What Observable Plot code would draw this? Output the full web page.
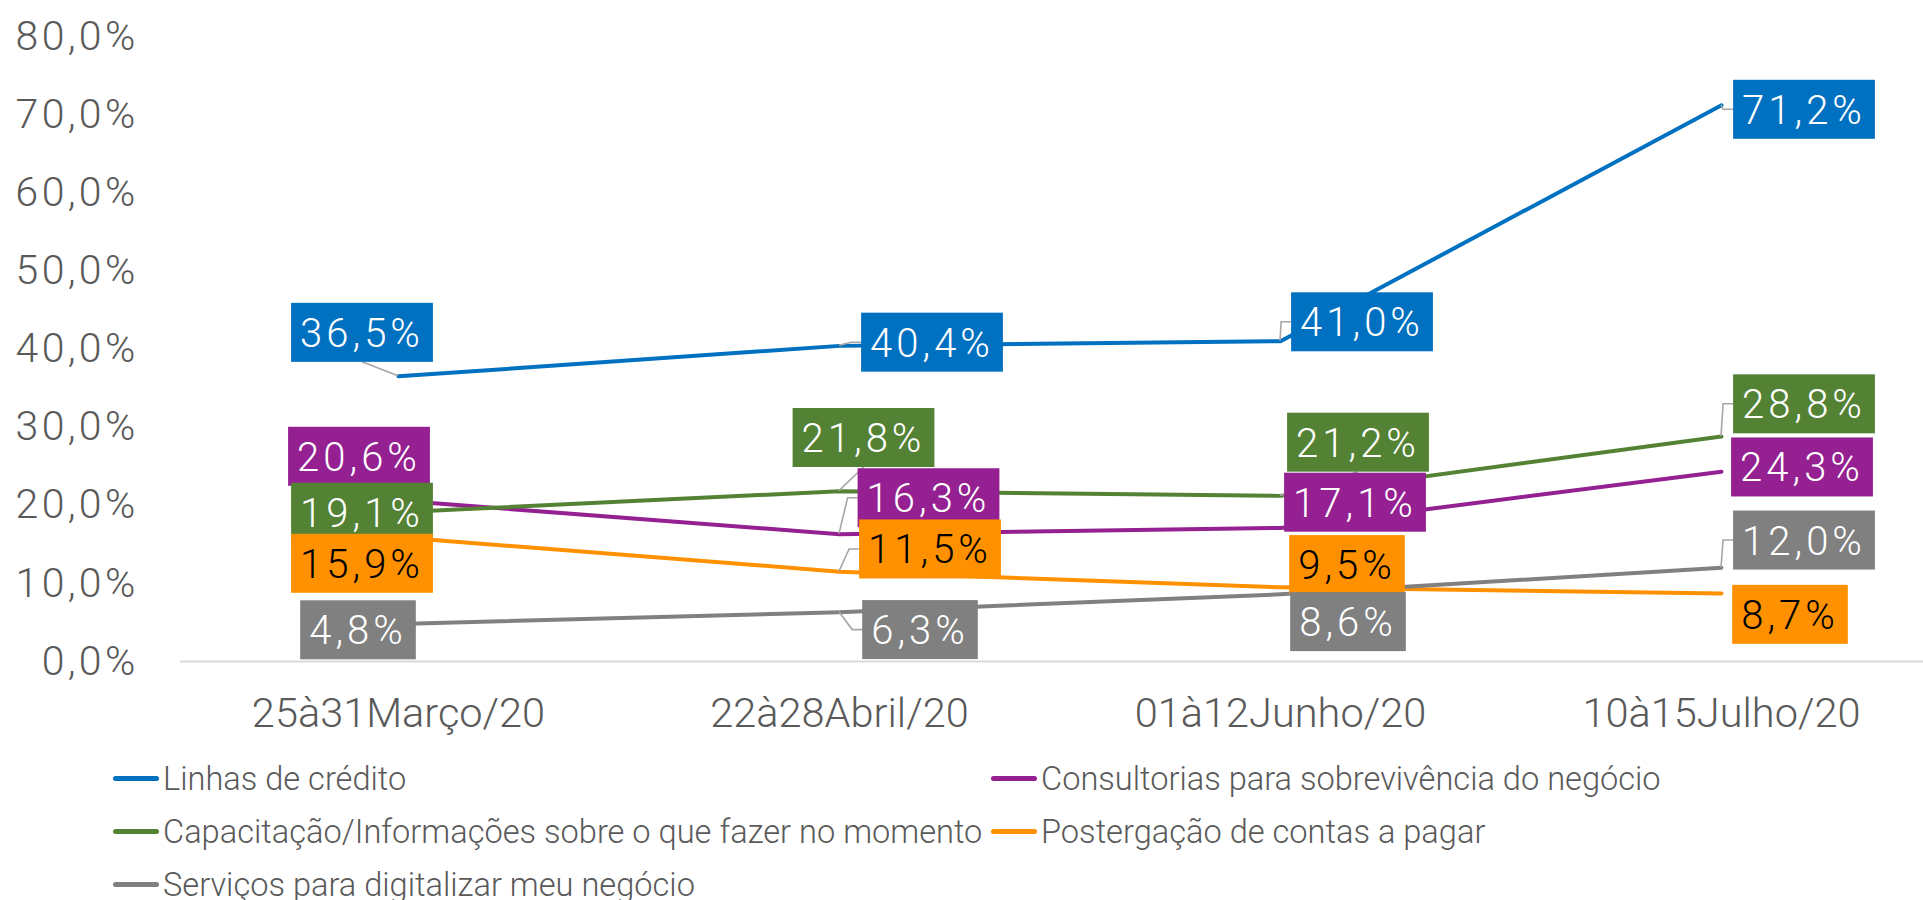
<!DOCTYPE html>
<html><head><meta charset="utf-8">
<script src="https://cdn.jsdelivr.net/npm/d3@7"></script>
<script src="https://cdn.jsdelivr.net/npm/@observablehq/plot@0.6"></script>
<style>
html,body{margin:0;padding:0;background:#fff;}
body{width:1923px;height:900px;overflow:hidden;font-family:Roboto,"Liberation Sans",sans-serif;}
#legend{display:grid;grid-template-columns:878px 878px;padding-left:113px;}
.item{height:53px;display:flex;align-items:center;font-size:32.6px;color:#595959;font-weight:300;white-space:nowrap;}
.sw{width:46px;height:5px;border-radius:3px;margin-right:4px;flex:none;}
g[aria-label="text"] text{letter-spacing:4px;}
g[aria-label="y-axis tick label"] text{letter-spacing:3.3px;}
</style></head><body><div id="chart"></div><div id="legend"></div>
<script>
// ---- data ----
const categories = ["25à31Março/20", "22à28Abril/20", "01à12Junho/20", "10à15Julho/20"];
const seriesNames = [
  "Linhas de crédito",
  "Consultorias para sobrevivência do negócio",
  "Capacitação/Informações sobre o que fazer no momento",
  "Postergação de contas a pagar",
  "Serviços para digitalizar meu negócio"
];
const linhasDeCredito = [36.5, 40.4, 41.0, 71.2];
const consultorias = [20.6, 16.3, 17.1, 24.3];
const capacitacao = [19.1, 21.8, 21.2, 28.8];
const postergacao = [15.9, 11.5, 9.5, 8.7];
const servicosDigitais = [4.8, 6.3, 8.6, 12.0];
const yTicks = [0, 10, 20, 30, 40, 50, 60, 70, 80];

// ---- styles ----
const seriesColors = ["#0070C0", "#952091", "#548235", "#FF9100", "#808080"];
const labelTextColors = ["#FFFFFF", "#FFFFFF", "#FFFFFF", "#000000", "#FFFFFF"];
// label box placement: pixel offset of box centre from its point, and leader style
const labelPlacement = [
  [[-36.5, -43.3, "bottom"], [92.5, -3, "side"], [81.5, -18.7, "side"], [82.5, 4.75, "side"]],
  [[-39.5, -43.6, null], [89, -35.7, "side"], [74.5, -25, null], [80.5, -4, null]],
  [[-36.5, 0.7, null], [24, -53, "bottom"], [77.5, -53, "bottom"], [82.5, -32, "side"]],
  [[-36.5, 26.7, null], [90.5, -22, "side"], [66.5, -22, null], [68.5, 21.5, null]],
  [[-40.5, 6.5, null], [80.5, 18, "side"], [67.5, 28, null], [82.5, -27, "side"]]
];

const seriesValues = [linhasDeCredito, consultorias, capacitacao, postergacao, servicosDigitais];
const rows = seriesNames.flatMap((s, si) => categories.map((c, ci) => ({series: s, si, ci, cat: c, value: seriesValues[si][ci]})));
const fmt = v => v.toFixed(1).replace(".", ",") + "%";

const labelMarks = rows.map(r => {
  const [dx, dy] = labelPlacement[r.si][r.ci];
  return Plot.text([r], {
    x: "cat", y: "value", text: d => fmt(d.value), dx, dy: dy + 1,
    fill: labelTextColors[r.si], fontSize: 40, fontWeight: 300,
    textAnchor: "middle", lineAnchor: "middle", ariaDescription: "data-label"
  });
});

const chart = Plot.plot({
  width: 1923, height: 752,
  marginLeft: 180, marginRight: 0, marginTop: 36, marginBottom: 91,
  style: {fontFamily: "Roboto, 'Liberation Sans', sans-serif", background: "transparent", overflow: "visible"},
  x: {type: "point", domain: categories, range: [398, 1721], padding: 0, label: null},
  y: {domain: [0, 80], label: null},
  color: {domain: seriesNames, range: seriesColors},
  marks: [
    Plot.ruleY([0], {stroke: "#D9D9D9", strokeWidth: 2}),
    Plot.axisY(yTicks, {tickSize: 0, tickPadding: 42, fontSize: 41, fontWeight: 300, fill: "#595959", tickFormat: fmt, label: null}),
    Plot.axisX({tickSize: 0, tickPadding: 36, fontSize: 41.5, fontWeight: 300, fill: "#595959", label: null}),
    Plot.line(rows, {x: "cat", y: "value", z: "series", stroke: "series", strokeWidth: 4, strokeLinecap: "round", strokeLinejoin: "round"}),
    ...labelMarks
  ]
});
document.getElementById("chart").append(chart);

// ---- legend ----
const legend = document.getElementById("legend");
seriesNames.forEach((s, i) => {
  const item = document.createElement("div");
  item.className = "item";
  const sw = document.createElement("span");
  sw.className = "sw";
  sw.style.background = seriesColors[i];
  item.appendChild(sw);
  item.appendChild(document.createTextNode(s));
  legend.appendChild(item);
});

// ---- label boxes and leader lines ----
const NS = "http://www.w3.org/2000/svg";
const xs = chart.scale("x"), ys = chart.scale("y");
const xApply = xs.apply ? xs.apply : d3.scalePoint().domain(xs.domain).range(xs.range).padding(0);
const yApply = ys.apply ? ys.apply : d3.scaleLinear().domain(ys.domain).range(ys.range);
let groups = Array.from(chart.querySelectorAll('g[aria-description="data-label"]'));
if (groups.length !== rows.length) groups = Array.from(chart.querySelectorAll('g[aria-label="text"]'));
if (groups.length) {
  const leaderG = document.createElementNS(NS, "g");
  leaderG.setAttribute("fill", "none");
  leaderG.setAttribute("stroke", "#A6A6A6");
  leaderG.setAttribute("stroke-width", "1.6");
  groups[0].parentNode.insertBefore(leaderG, groups[0]);
  const svgRect = chart.getBoundingClientRect();
  groups.forEach((g, i) => {
    const r = rows[i];
    const text = g.querySelector("text");
    text.style.letterSpacing = "4px";
    const bb = text.getBBox();
    const rect = document.createElementNS(NS, "rect");
    rect.setAttribute("x", bb.x - 9);
    rect.setAttribute("width", bb.width + 18);
    rect.setAttribute("y", bb.y + bb.height / 2 - 29.5 - 1);
    rect.setAttribute("height", 59);
    rect.setAttribute("fill", seriesColors[r.si]);
    if (text.getAttribute("transform")) rect.setAttribute("transform", text.getAttribute("transform"));
    g.insertBefore(rect, text);
    const leader = labelPlacement[r.si][r.ci][2];
    if (leader) {
      const rr = rect.getBoundingClientRect();
      const left = rr.left - svgRect.left, top = rr.top - svgRect.top;
      const px = xApply(r.cat), py = yApply(r.value);
      const p = document.createElementNS(NS, "path");
      if (leader === "side") {
        const my = top + rr.height / 2;
        p.setAttribute("d", `M${px},${py}L${left - 10},${my}L${left},${my}`);
      } else {
        p.setAttribute("d", `M${px},${py}L${left + rr.width / 2},${top + rr.height}`);
      }
      leaderG.appendChild(p);
    }
  });
}
</script>
</body></html>
